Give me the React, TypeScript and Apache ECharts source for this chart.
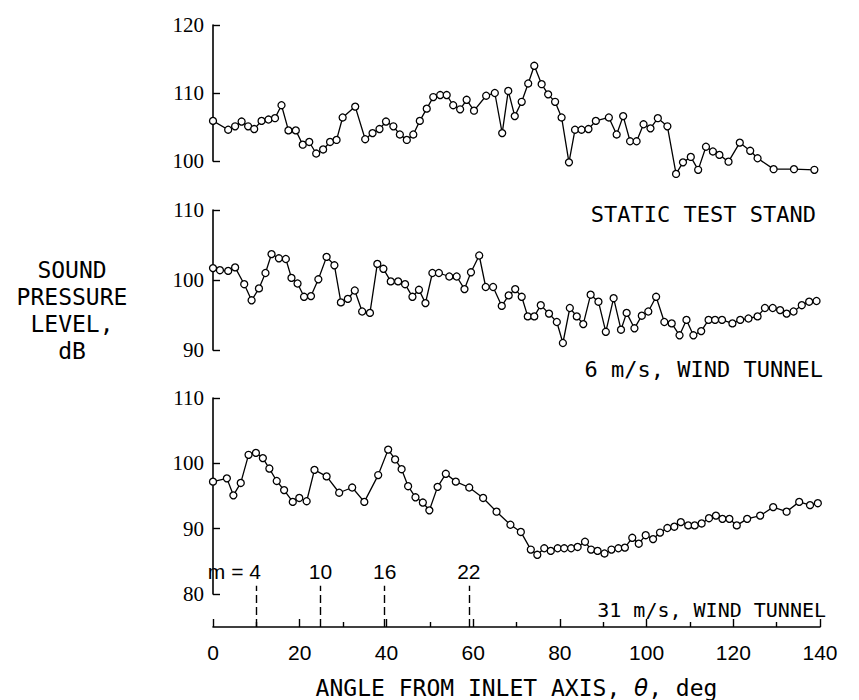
import React, { useEffect, useRef } from "react";
import * as echarts from "echarts";

// Panel 1: static test stand
const staticAngle = [0, 3.5, 5.1, 6.6, 8.1, 9.5, 11.2, 12.8, 14.3, 15.8, 17.4, 19.1, 20.7, 22.2, 23.8, 25.4, 27.0, 28.5, 29.9, 32.8, 35.1, 36.8, 38.4, 39.9, 41.6, 43.1, 44.7, 46.2, 47.7, 49.3, 50.8, 52.4, 53.9, 55.4, 57.0, 58.5, 60.2, 63.0, 65.0, 66.7, 68.1, 69.6, 71.2, 72.7, 74.1, 75.8, 77.3, 78.9, 80.4, 82.1, 83.5, 85.0, 86.6, 88.3, 91.3, 93.1, 94.6, 96.2, 97.7, 99.3, 100.9, 102.6, 104.8, 106.8, 108.4, 110.2, 111.9, 113.7, 115.3, 116.8, 118.9, 121.5, 123.9, 125.6, 129.3, 134.0, 138.7];
const staticSPL = [105.9, 104.6, 105.1, 105.8, 105.1, 104.7, 105.9, 106.1, 106.3, 108.2, 104.5, 104.5, 102.4, 102.8, 101.1, 101.7, 102.8, 103.1, 106.4, 108.0, 103.2, 104.1, 104.7, 105.8, 105.1, 103.9, 103.1, 103.9, 105.9, 107.7, 109.4, 109.7, 109.7, 108.2, 107.6, 109.0, 107.4, 109.6, 110.0, 104.1, 110.3, 106.6, 108.7, 111.4, 114.0, 111.3, 109.8, 108.7, 106.4, 99.8, 104.6, 104.6, 104.7, 105.9, 106.4, 103.9, 106.6, 102.9, 102.9, 105.4, 104.8, 106.3, 105.1, 98.1, 99.8, 100.6, 98.7, 102.1, 101.4, 100.9, 99.9, 102.7, 101.5, 100.4, 98.8, 98.8, 98.7];

// Panel 2: 6 m/s wind tunnel
const wt6Angle = [0, 1.6, 3.5, 5.1, 7.2, 8.9, 10.6, 12.1, 13.5, 15.2, 16.8, 18.1, 19.5, 21.0, 22.6, 24.3, 26.2, 28.0, 29.5, 31.1, 32.7, 34.4, 36.2, 37.9, 39.3, 41.0, 42.7, 44.3, 46.0, 47.5, 49.0, 50.6, 52.1, 54.5, 56.2, 58.0, 59.5, 61.4, 62.9, 64.6, 66.6, 68.2, 69.7, 71.2, 72.6, 74.1, 75.6, 77.5, 79.3, 80.7, 82.3, 83.9, 85.4, 87.1, 88.9, 90.6, 92.4, 94.1, 95.4, 97.2, 98.9, 100.4, 102.2, 104.1, 105.8, 107.6, 109.2, 110.8, 112.6, 114.3, 115.8, 117.4, 119.8, 121.6, 123.5, 125.6, 127.3, 129.1, 130.8, 132.3, 133.9, 135.8, 137.5, 139.2];
const wt6SPL = [101.7, 101.4, 101.3, 101.8, 99.4, 97.1, 98.8, 101.0, 103.7, 103.1, 103.0, 100.3, 99.5, 97.6, 97.7, 100.1, 103.3, 102.1, 96.8, 97.3, 98.5, 95.5, 95.3, 102.3, 101.6, 99.8, 99.8, 99.4, 97.6, 98.6, 96.7, 101.0, 101.0, 100.5, 100.5, 98.7, 101.1, 103.5, 99.0, 99.0, 96.3, 97.8, 98.7, 97.6, 94.8, 94.8, 96.4, 95.2, 94.0, 91.0, 96.0, 94.8, 93.7, 97.9, 96.9, 92.6, 97.4, 92.9, 95.3, 93.1, 94.9, 95.5, 97.6, 94.0, 93.8, 92.1, 94.3, 92.1, 92.7, 94.3, 94.3, 94.3, 93.8, 94.3, 94.5, 94.8, 96.0, 96.0, 95.7, 95.2, 95.5, 96.4, 96.9, 97.0];

// Panel 3: 31 m/s wind tunnel
const wt31Angle = [0, 3.2, 4.7, 6.4, 8.2, 9.9, 11.5, 13.0, 14.7, 16.4, 18.4, 19.9, 21.6, 23.4, 26.2, 29.1, 32.1, 34.9, 38.1, 40.4, 42.0, 43.5, 45.0, 46.7, 48.4, 49.9, 51.8, 53.7, 56.0, 59.1, 62.3, 65.4, 68.6, 71.0, 73.3, 74.8, 76.4, 77.9, 79.5, 81.0, 82.6, 84.1, 85.8, 87.2, 88.7, 90.3, 91.9, 93.5, 95.0, 96.7, 98.2, 99.8, 101.5, 103.1, 104.8, 106.4, 107.9, 109.6, 111.1, 112.7, 114.4, 116.0, 117.5, 119.1, 120.8, 123.2, 126.2, 129.2, 132.3, 135.2, 137.7, 139.5];
const wt31SPL = [97.2, 97.7, 95.1, 97.0, 101.3, 101.6, 100.8, 99.2, 97.3, 95.9, 94.1, 94.7, 94.2, 99.0, 98.0, 95.5, 96.3, 94.1, 98.2, 102.1, 100.6, 99.1, 96.5, 94.8, 94.0, 92.8, 96.4, 98.4, 97.2, 96.3, 94.7, 92.6, 90.6, 89.5, 86.8, 86.0, 87.0, 86.6, 87.0, 87.0, 87.0, 87.2, 88.0, 86.8, 86.6, 86.2, 86.8, 87.0, 87.1, 88.6, 87.7, 89.0, 88.4, 89.4, 90.1, 90.3, 91.0, 90.5, 90.5, 90.8, 91.6, 92.0, 91.5, 91.5, 90.5, 91.5, 92.0, 93.3, 92.6, 94.1, 93.6, 93.9];

// Mode markers (dashed lines)
const modeNumbers = [4, 10, 16, 22];
const modeAngles = [10, 24.8, 39.6, 59];

const panelLabels = ["STATIC TEST STAND", "6 m/s, WIND TUNNEL", "31 m/s, WIND TUNNEL"];
const yRanges = [
  [100, 120],
  [90, 110],
  [80, 110],
];
const xTicks = [0, 140, 20];

const LABEL_FONT = "'DejaVu Sans Mono', monospace";
const TICK_FONT = "'Liberation Serif', serif";
const XTICK_FONT = "'Liberation Sans Narrow', 'Liberation Sans', sans-serif";

const pairs = (xs: number[], ys: number[]) => xs.map((x, i) => [x, ys[i]]);

export default function App() {
  const ref = useRef<HTMLDivElement>(null);
  useEffect(() => {
    if (!ref.current) return;
    const chart = echarts.init(ref.current, undefined, { renderer: "svg" });
    const L = 213;
    const W = 607;
    const grids = [
      { left: L, width: W, top: 25, height: 136 },
      { left: L, width: W, top: 210, height: 140 },
      { left: L, width: W, top: 398, height: 196 },
      { left: L, width: W, top: 574, height: 62 },
    ];
    const hiddenX = (i: number) => ({
      type: "value",
      gridIndex: i,
      min: xTicks[0],
      max: xTicks[1],
      show: false,
    });
    const panelY = (i: number) => ({
      type: "value",
      gridIndex: i,
      min: yRanges[i][0],
      max: yRanges[i][1],
      interval: 10,
      axisLine: { show: true, lineStyle: { color: "#000", width: 1.6 } },
      axisTick: { show: true, inside: true, length: 7, lineStyle: { color: "#000", width: 1.4 } },
      axisLabel: { color: "#000", fontSize: 21, fontFamily: TICK_FONT, margin: 9 },
      splitLine: { show: false },
    });
    const lineSeries = (i: number, xs: number[], ys: number[]) => ({
      type: "line",
      xAxisIndex: i,
      yAxisIndex: i,
      data: pairs(xs, ys),
      clip: false,
      symbol: "circle",
      symbolSize: 7,
      showSymbol: true,
      lineStyle: { color: "#000", width: 1.3 },
      itemStyle: { color: "#fff", borderColor: "#000", borderWidth: 1.3 },
      z: 3,
    });
    const option = {
      animation: false,
      backgroundColor: "#fff",
      grid: grids,
      xAxis: [
        hiddenX(0),
        hiddenX(1),
        hiddenX(2),
        {
          type: "value",
          gridIndex: 3,
          min: xTicks[0],
          max: xTicks[1],
          interval: xTicks[2],
          axisLine: { show: true, lineStyle: { color: "#000", width: 1.6 } },
          axisTick: { show: true, inside: true, length: 8, lineStyle: { color: "#000", width: 1.4 } },
          minorTick: { show: true, splitNumber: 2, length: 5, lineStyle: { color: "#000", width: 1.4 } },
          axisLabel: { color: "#000", fontSize: 21, fontFamily: XTICK_FONT, margin: 15 },
          splitLine: { show: false },
          name: "ANGLE FROM INLET AXIS, {i|θ}, deg",
          nameLocation: "middle",
          nameGap: 49,
          nameTextStyle: {
            color: "#000",
            fontSize: 23,
            fontFamily: LABEL_FONT,
            rich: { i: { fontStyle: "italic", fontSize: 23, fontFamily: "'DejaVu Sans', sans-serif", color: "#000" } },
          },
        },
      ],
      yAxis: [
        panelY(0),
        panelY(1),
        panelY(2),
        { type: "value", gridIndex: 3, min: 0, max: 1, show: false },
      ],
      series: [
        lineSeries(0, staticAngle, staticSPL),
        lineSeries(1, wt6Angle, wt6SPL),
        lineSeries(2, wt31Angle, wt31SPL),
        {
          type: "line",
          xAxisIndex: 3,
          yAxisIndex: 3,
          data: [],
          markLine: {
            silent: true,
            symbol: "none",
            lineStyle: { color: "#000", width: 1.4, type: [8, 4] },
            data: modeAngles.map((a, i) => [
              {
                coord: [a, 0],
                label: {
                  show: true,
                  position: "end",
                  distance: 4,
                  formatter: i === 0 ? "m = " + modeNumbers[i] : String(modeNumbers[i]),
                  offset: i === 0 ? [-22, 0] : [0, 0],
                  color: "#000",
                  fontSize: 21,
                  fontFamily: XTICK_FONT,
                },
              },
              { coord: [a, 0.78] },
            ]),
          },
        },
      ],
      graphic: [
        {
          type: "text",
          x: 72,
          y: 256,
          style: {
            text: "SOUND\nPRESSURE\nLEVEL,\ndB",
            align: "center",
            verticalAlign: "top",
            lineHeight: 27,
            fill: "#000",
            fontSize: 23,
            fontFamily: LABEL_FONT,
          },
        },
        {
          type: "text",
          right: 859 - 816,
          top: 203,
          style: { text: panelLabels[0], fill: "#000", fontSize: 22, fontFamily: LABEL_FONT },
        },
        {
          type: "text",
          right: 859 - 823,
          top: 358,
          style: { text: panelLabels[1], fill: "#000", fontSize: 22, fontFamily: LABEL_FONT },
        },
        {
          type: "text",
          right: 859 - 826,
          top: 600,
          style: { text: panelLabels[2], fill: "#000", fontSize: 20, fontFamily: LABEL_FONT },
        },
      ],
    };
    chart.setOption(option as any);
    return () => chart.dispose();
  }, []);
  return (
    <div
      ref={ref}
      style={{ position: "fixed", left: 0, top: 0, width: 859, height: 700, background: "#fff" }}
    />
  );
}
